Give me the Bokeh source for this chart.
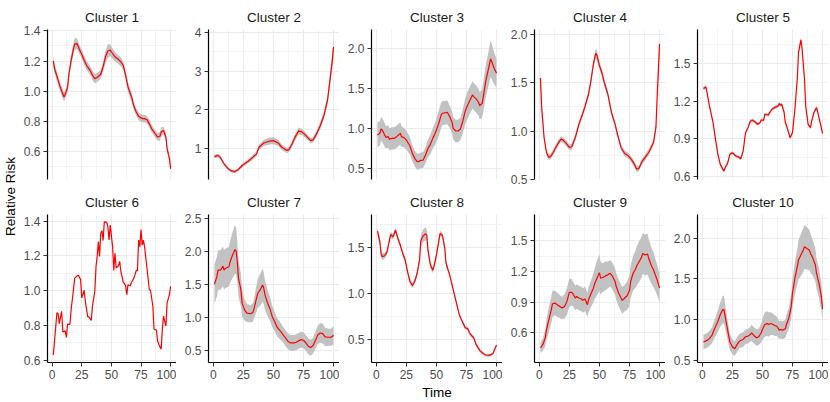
import math
from bokeh.plotting import figure
from bokeh.layouts import row, column
from bokeh.models import Range1d, FixedTicker, PrintfTickFormatter, Label
from bokeh.embed import file_html
from bokeh.resources import INLINE

FONT = "Liberation Sans"

titles = ["Cluster %d" % k for k in range(1, 11)]
x_ticks = [0, 25, 50, 75, 100]
x_minor = [12.5, 37.5, 62.5, 87.5]

# ---- Cluster 1 ----
t1 = [1,2,4,6,8,10,11,13,14,16, 18,19,21,23,25, 27,29,32,34,36, 38,41,43,45,47,
      49,51,53,56,58, 60,62,64,67,69, 71,73,76,78,80, 82,84,87,89,91, 92,94,96,97,99, 100]
m1 = [1.20,1.15,1.10,1.046,1.002,0.962,0.98,1.024,1.106,1.205, 1.283,1.312,1.316,1.276,1.245,
      1.205,1.172,1.139,1.106,1.084, 1.091,1.113,1.161,1.228,1.267, 1.272,1.25,1.228,1.21,1.194,
      1.172,1.106,1.029,0.962,0.901, 0.863,0.834,0.819,0.819,0.812, 0.786,0.752,0.719,0.697,0.702,
      0.73,0.741,0.697,0.62,0.554, 0.487]
s1 = [0.035,0.03,0.03,0.03,0.03,0.03,0.03,0.03,0.03,0.035, 0.04,0.04,0.035,0.03,0.03,
      0.03,0.03,0.03,0.03,0.03, 0.03,0.03,0.035,0.04,0.045, 0.04,0.035,0.03,0.03,0.03,
      0.03,0.03,0.03,0.03,0.025, 0.025,0.025,0.025,0.025,0.025, 0.025,0.025,0.025,0.025,0.03,
      0.03,0.025,0.025,0.02,0.02, 0.02]

# ---- Cluster 2 ----
t2 = [1,4,6,9,12,15,18,21,24,29, 33,36,38,42,47, 50,54,57,61,63, 65,68,71,74,77,
      81,83,86,89,92, 95,97,99,100]
m2 = [0.80,0.83,0.77,0.61,0.50,0.43,0.415,0.47,0.57,0.68, 0.785,0.87,1.04,1.15,1.20,
      1.21,1.15,1.04,0.96,0.98, 1.09,1.30,1.46,1.43,1.34, 1.21,1.23,1.39,1.60,1.86,
      2.25,2.76,3.28,3.62]
s2 = [0.05,0.05,0.05,0.04,0.04,0.04,0.04,0.04,0.05,0.05, 0.06,0.06,0.07,0.08,0.09,
      0.09,0.08,0.07,0.07,0.07, 0.07,0.08,0.09,0.08,0.07, 0.07,0.07,0.08,0.09,0.1,
      0.12,0.15,0.2,0.25]

# ---- Cluster 3 ----
t3 = [1,3,4,5,7,8,10,11,13,15, 17,20,21,23,25, 28,30,32,34,35, 37,39,41,43,45,
      47,49,50,52,54, 55,58,59,61,63, 64,66,68,70,72, 74,76,78,80,81, 83,85,86,88,89,
      91,94,95,96,98, 100]
m3 = [0.916,0.937,0.992,0.979,0.916,0.887,0.895,0.862,0.874,0.874, 0.895,0.937,0.895,0.883,0.853,
      0.778,0.686,0.623,0.581,0.581, 0.598,0.602,0.665,0.749,0.799, 0.874,0.937,0.979,1.063,1.168,
      1.189,1.197,1.201,1.147,1.075, 1.0,0.966,0.966,0.992,1.092, 1.218,1.293,1.356,1.419,1.398,
      1.369,1.327,1.285,1.31,1.398, 1.587,1.796,1.872,1.838,1.754, 1.692]
s3 = [0.16,0.15,0.15,0.15,0.15,0.14,0.14,0.14,0.14,0.14, 0.14,0.14,0.13,0.12,0.12,
      0.11,0.1,0.1,0.1,0.1, 0.1,0.1,0.1,0.11,0.12, 0.13,0.14,0.15,0.16,0.16,
      0.15,0.15,0.15,0.14,0.14, 0.14,0.14,0.14,0.14,0.15, 0.16,0.17,0.17,0.17,0.17,
      0.17,0.17,0.17,0.18,0.19, 0.2,0.22,0.23,0.22,0.2, 0.18]

# ---- Cluster 4 ----
t4 = [1,2,4,6,8,10,12,15,18,20, 23,25,27,30,33, 36,38,41,43,45, 47,48,50,52,54,
      57,60,63,65,68, 71,74,77,79,81, 83,85,88,91,93, 95,97,98,100]
m4 = [1.548,1.245,0.934,0.779,0.728,0.745,0.79,0.859,0.917,0.907, 0.866,0.831,0.838,0.934,1.072,
      1.176,1.252,1.383,1.521,1.693, 1.803,1.779,1.676,1.607,1.503, 1.383,1.193,1.072,0.969,0.831,
      0.769,0.745,0.70,0.659,0.607, 0.617,0.676,0.728,0.779,0.831, 0.883,1.038,1.348,1.90]
s4 = [0.1,0.05,0.03,0.03,0.03,0.03,0.03,0.03,0.03,0.03, 0.03,0.03,0.03,0.03,0.03,
      0.03,0.03,0.03,0.04,0.04, 0.05,0.05,0.04,0.04,0.04, 0.03,0.03,0.03,0.03,0.03,
      0.03,0.03,0.03,0.03,0.03, 0.03,0.03,0.03,0.03,0.03, 0.03,0.04,0.05,0.08]

# ---- Cluster 5 ----
t5 = [1,3,4,6,9,11,13,15,18,19, 21,23,25,26,28, 30,32,34,36,38, 40,42,44,46,48,
      49,51,52,55,56, 58,60,63,64,65, 66,68,69,71,73, 75,77,79,80,82, 83,85,86,88,90,
      91,93,95,96,98, 100]
m5 = [1.30,1.313,1.268,1.161,1.028,0.895,0.775,0.695,0.641,0.668, 0.703,0.775,0.788,0.78,0.761,
      0.756,0.74,0.801,0.948,0.988, 1.041,1.047,1.033,1.015,1.028, 1.049,1.047,1.095,1.089,1.108,
      1.135,1.148,1.161,1.18,1.167, 1.175,1.113,1.033,0.975,0.908, 0.948,1.135,1.375,1.588,1.689,
      1.615,1.375,1.161,1.015,0.988, 1.041,1.113,1.148,1.113,1.028, 0.943]
s5 = [0.015,0.015,0.012,0.012,0.012,0.012,0.012,0.012,0.012,0.012, 0.012,0.012,0.012,0.012,0.012,
      0.012,0.012,0.012,0.012,0.012, 0.015,0.015,0.012,0.012,0.012, 0.012,0.012,0.012,0.012,0.012,
      0.012,0.015,0.015,0.015,0.015, 0.012,0.012,0.012,0.012,0.012, 0.012,0.012,0.015,0.015,0.02,
      0.015,0.012,0.012,0.012,0.012, 0.012,0.012,0.015,0.012,0.012, 0.012]

# ---- Cluster 6 (single member) ----
t6 = [1,4,5,6,8,9,11,12,13,15, 16,18,19,22,24, 25,27,28,30,31, 33,34,36,37,38,
      39,40,41,42,43, 44,46,47,48,49, 51,52,53,54,56, 57,58,60,61,62, 63,64,66,67,69,
      71,72,73,74,75, 76,77,78,80,82, 83,85,86,88,89, 90,92,93,94,96, 97,99,100]
m6 = [0.63,0.872,0.868,0.81,0.88,0.762,0.768,0.73,0.806,0.806, 0.891,1.006,1.072,1.09,1.063,
      0.958,1.002,0.939,0.849,0.849, 0.828,0.910,0.996,1.139,1.196, 1.282,1.196,1.33,1.345,1.288,
      1.396,1.394,1.368,1.291,1.377, 1.253,1.116,1.215,1.13,1.143, 1.168,1.11,1.048,1.04,1.028,
      0.977,1.034,1.028,1.048,1.072, 1.116,1.114,1.291,1.253,1.352, 1.262,1.291,1.253,1.13,1.006,
      1.002,0.910,0.777,0.773,0.710, 0.691,0.663,0.777,0.853,0.796, 0.929,0.977,1.025]
s6 = []

# ---- Cluster 7 ----
t7 = [1,3,4,6,7,8,9,10,13,14, 16,18,19,20,21, 23,24,26,28,31, 33,34,36,37,39,
      41,42,43,45,47, 49,51,53,56,58, 60,62,64,67,69, 71,73,75,77,79, 81,83,85,87,89,
      91,93,96,98,100]
m7 = [1.50,1.616,1.716,1.716,1.741,1.776,1.716,1.741,1.766,1.842, 1.942,2.028,2.008,1.842,1.59,
      1.415,1.214,1.113,1.063,1.053, 1.073,1.138,1.289,1.364,1.415, 1.49,1.44,1.339,1.224,1.138,
      1.013,0.937,0.852,0.786,0.736, 0.686,0.636,0.611,0.611,0.621, 0.641,0.661,0.651,0.611,0.56,
      0.54,0.57,0.651,0.736,0.761, 0.751,0.701,0.696,0.696,0.726]
s7 = [0.3,0.3,0.3,0.3,0.3,0.3,0.3,0.3,0.3,0.32, 0.35,0.37,0.35,0.3,0.28,
      0.25,0.2,0.16,0.14,0.13, 0.14,0.15,0.2,0.22,0.24, 0.25,0.24,0.22,0.2,0.18,
      0.16,0.15,0.14,0.13,0.12, 0.12,0.12,0.12,0.12,0.12, 0.12,0.12,0.12,0.12,0.12,
      0.12,0.12,0.13,0.14,0.15, 0.15,0.14,0.13,0.13,0.14]

# ---- Cluster 8 ----
t8 = [1,3,4,5,7,9,11,12,14,15, 16,18,20,22,24, 26,28,30,32,34, 36,37,39,41,42,
      43,45,47,48,50, 52,53,55,57,58, 61,63,65,67,69, 72,74,76,78,81, 83,86,89,91,94,
      97,98,100]
m8 = [1.677,1.563,1.437,1.401,1.412,1.455,1.581,1.642,1.616,1.652, 1.688,1.599,1.527,1.437,1.366,
      1.24,1.133,1.09,1.133,1.222, 1.366,1.57,1.627,1.649,1.634, 1.473,1.312,1.254,1.294,1.419,
      1.57,1.652,1.634,1.491,1.33, 1.204,1.097,0.989,0.882,0.774, 0.685,0.631,0.624,0.566,0.523,
      0.452,0.387,0.351,0.337,0.333, 0.351,0.387,0.444]
s8 = [0.04,0.04,0.04,0.04,0.03,0.03,0.03,0.03,0.03,0.03, 0.03,0.03,0.03,0.03,0.03,
      0.03,0.03,0.03,0.03,0.03, 0.04,0.06,0.07,0.07,0.06, 0.04,0.03,0.03,0.03,0.03,
      0.03,0.03,0.03,0.03,0.03, 0.02,0.02,0.02,0.02,0.02, 0.02,0.02,0.02,0.02,0.02,
      0.02,0.02,0.015,0.015,0.015, 0.015,0.015,0.015]

# ---- Cluster 9 ----
t9 = [1,3,5,6,8,10,11,13,15,18, 19,21,23,25,27, 28,30,31,33,35, 36,38,40,41,43,
      45,46,48,50,51, 53,55,57,59,61, 63,64,66,68,69, 71,73,75,76,78, 80,81,83,85,86,
      88,90,91,93,95, 96,98,100]
m9 = [0.454,0.487,0.551,0.632,0.73,0.827,0.885,0.892,0.876,0.85, 0.843,0.859,0.908,0.996,0.996,
      0.983,0.941,0.957,0.941,0.931, 0.918,0.931,0.876,0.924,0.983, 1.038,1.08,1.135,1.19,1.135,
      1.142,1.158,1.168,1.184,1.151, 1.103,1.054,0.989,0.941,0.918, 0.941,0.963,1.015,1.103,1.184,
      1.223,1.255,1.297,1.339,1.378, 1.362,1.372,1.33,1.265,1.216, 1.184,1.119,1.038]
s9 = [0.05,0.06,0.08,0.1,0.12,0.13,0.13,0.12,0.12,0.11, 0.11,0.12,0.13,0.14,0.13,
      0.12,0.12,0.12,0.12,0.12, 0.12,0.12,0.12,0.12,0.13, 0.14,0.15,0.17,0.18,0.16,
      0.14,0.14,0.13,0.13,0.13, 0.13,0.13,0.13,0.13,0.13, 0.13,0.14,0.15,0.16,0.17,
      0.18,0.19,0.2,0.2,0.2, 0.2,0.2,0.19,0.18,0.17, 0.16,0.15,0.14]

# ---- Cluster 10 ----
t10 = [1,4,6,8,10,13,15,17,18,19, 21,23,25,27,29, 31,34,36,38,40, 41,43,45,47,49,
       50,52,54,55,57, 59,60,62,64,65, 67,69,70,72,74, 75,77,79,80,82, 84,85,87,89,90,
       92,94,95,97,99, 100]
m10 = [0.723,0.743,0.768,0.804,0.878,0.98,1.061,1.122,1.122,1.041, 0.878,0.723,0.666,0.641,0.694,
       0.735,0.755,0.788,0.796,0.817, 0.837,0.804,0.776,0.788,0.837, 0.878,0.939,0.951,0.939,0.951,
       0.939,0.927,0.918,0.87,0.878, 0.87,0.886,0.939,1.02,1.163, 1.326,1.509,1.652,1.733,1.795,
       1.856,1.897,1.876,1.856,1.815, 1.754,1.672,1.57,1.448,1.285, 1.13]
s10 = [0.09,0.09,0.09,0.1,0.11,0.13,0.15,0.17,0.17,0.15, 0.12,0.1,0.09,0.09,0.09,
       0.09,0.09,0.09,0.09,0.09, 0.1,0.1,0.1,0.1,0.12, 0.13,0.15,0.15,0.15,0.14,
       0.13,0.13,0.12,0.11,0.11, 0.11,0.11,0.12,0.13,0.15, 0.17,0.2,0.22,0.24,0.26,
       0.27,0.27,0.26,0.25,0.24, 0.22,0.2,0.19,0.18,0.17, 0.15]

# ---- per-panel y axis settings ----
y_limits = [(0.416, 1.409), (0.21, 4.07), (0.358, 2.239), (0.5, 2.049), (0.574, 1.772),
            (0.586, 1.438), (0.313, 2.56), (0.256, 1.858), (0.31, 1.759), (0.471, 2.294)]
y_major = [[0.6, 0.8, 1.0, 1.2, 1.4], [1, 2, 3, 4], [0.5, 1.0, 1.5, 2.0], [0.5, 1.0, 1.5, 2.0],
           [0.6, 0.9, 1.2, 1.5], [0.6, 0.8, 1.0, 1.2, 1.4], [0.5, 1.0, 1.5, 2.0, 2.5],
           [0.5, 1.0, 1.5], [0.6, 0.9, 1.2, 1.5], [0.5, 1.0, 1.5, 2.0]]
y_minor = [[0.5, 0.7, 0.9, 1.1, 1.3], [0.5, 1.5, 2.5, 3.5], [0.75, 1.25, 1.75], [0.75, 1.25, 1.75],
           [0.75, 1.05, 1.35, 1.65], [0.7, 0.9, 1.1, 1.3], [0.75, 1.25, 1.75, 2.25],
           [0.75, 1.25, 1.75], [0.45, 0.75, 1.05, 1.35, 1.65], [0.75, 1.25, 1.75, 2.25]]
y_format = ["%.1f", "%.0f", "%.1f", "%.1f", "%.1f", "%.1f", "%.1f", "%.1f", "%.1f", "%.1f"]

series = [(t1, m1, s1), (t2, m2, s2), (t3, m3, s3), (t4, m4, s4), (t5, m5, s5),
          (t6, m6, s6), (t7, m7, s7), (t8, m8, s8), (t9, m9, s9), (t10, m10, s10)]

GRID = "#EBEBEB"
BAND = "#C2C2C2"
TICK_TXT = "#4D4D4D"


def make_panel(i):
    t, m, s = series[i]
    first = (i % 5 == 0)
    bottom = (i >= 5)
    w = 156 if first else 163
    left = 25 if first else 32
    if bottom:
        h, top, bot = 196, 25, 22
    else:
        h, top, bot = 188, 29, 9
    p = figure(width=w, height=h, title=titles[i],
               x_range=Range1d(-3.95, 104.95), y_range=Range1d(*y_limits[i]),
               output_backend="svg", toolbar_location=None,
               min_border_left=left, min_border_right=0, min_border_top=top,
               min_border_bottom=bot)
    p.outline_line_color = None
    p.background_fill_color = "white"
    p.border_fill_color = "white"
    p.title.align = "center"
    p.title.text_font = FONT
    p.title.text_font_size = "13.5px"
    p.title.text_font_style = "normal"
    p.title.text_color = "#1A1A1A"
    p.title.standoff = 9
    p.title.offset = 0

    xt = FixedTicker(ticks=x_ticks, minor_ticks=x_minor)
    yt = FixedTicker(ticks=y_major[i], minor_ticks=y_minor[i])
    for g, tk in ((p.xgrid, xt), (p.ygrid, yt)):
        g.ticker = tk
        g.grid_line_color = GRID
        g.grid_line_width = 1.1
        g.minor_grid_line_color = GRID
        g.minor_grid_line_width = 0.6

    ax = p.yaxis[0]
    ax.ticker = yt
    ax.formatter = PrintfTickFormatter(format=y_format[i])
    ax.axis_line_color = "black"
    ax.axis_line_width = 1.2
    ax.major_tick_line_color = "#333333"
    ax.major_tick_out = 4
    ax.major_tick_in = 0
    ax.minor_tick_line_color = None
    ax.major_label_text_font = FONT
    ax.major_label_text_font_size = "12px"
    ax.major_label_text_color = TICK_TXT
    ax.major_label_standoff = 3

    bx = p.xaxis[0]
    if bottom:
        bx.ticker = xt
        bx.axis_line_color = "black"
        bx.axis_line_width = 1.2
        bx.major_tick_line_color = "#333333"
        bx.major_tick_out = 4
        bx.major_tick_in = 0
        bx.minor_tick_line_color = None
        bx.major_label_text_font = FONT
        bx.major_label_text_font_size = "12px"
        bx.major_label_text_color = TICK_TXT
        bx.major_label_standoff = 3
    else:
        bx.visible = False

    if s:
        lo = [a - b for a, b in zip(m, s)]
        hi = [a + b for a, b in zip(m, s)]
        p.varea(x=t, y1=lo, y2=hi, fill_color=BAND)
    p.line(t, m, line_color="#FF0000", line_width=1.2)
    return p


panels = [make_panel(i) for i in range(10)]

# left strip with the y-axis title
ylab = figure(width=20, height=402, x_range=Range1d(0, 20), y_range=Range1d(0, 402),
              output_backend="svg", toolbar_location=None, x_axis_type=None, y_axis_type=None,
              min_border=0)
ylab.outline_line_color = None
ylab.grid.visible = False
ylab.add_layout(Label(x=10, y=206, text="Relative Risk", angle=math.pi / 2,
                      text_align="center", text_baseline="middle",
                      text_font=FONT, text_font_size="13.5px", text_color="black"))

# bottom strip with the x-axis title
xlab = figure(width=808, height=18, x_range=Range1d(0, 808), y_range=Range1d(0, 18),
              output_backend="svg", toolbar_location=None, x_axis_type=None, y_axis_type=None,
              min_border=0)
xlab.outline_line_color = None
xlab.grid.visible = False
xlab.add_layout(Label(x=416.5, y=10, text="Time", text_align="center", text_baseline="middle",
                      text_font=FONT, text_font_size="13.5px", text_color="black"))

layout = row(ylab, column(row(*panels[:5]), row(*panels[5:]), xlab))

open("out.html", "w").write(file_html(layout, INLINE))
